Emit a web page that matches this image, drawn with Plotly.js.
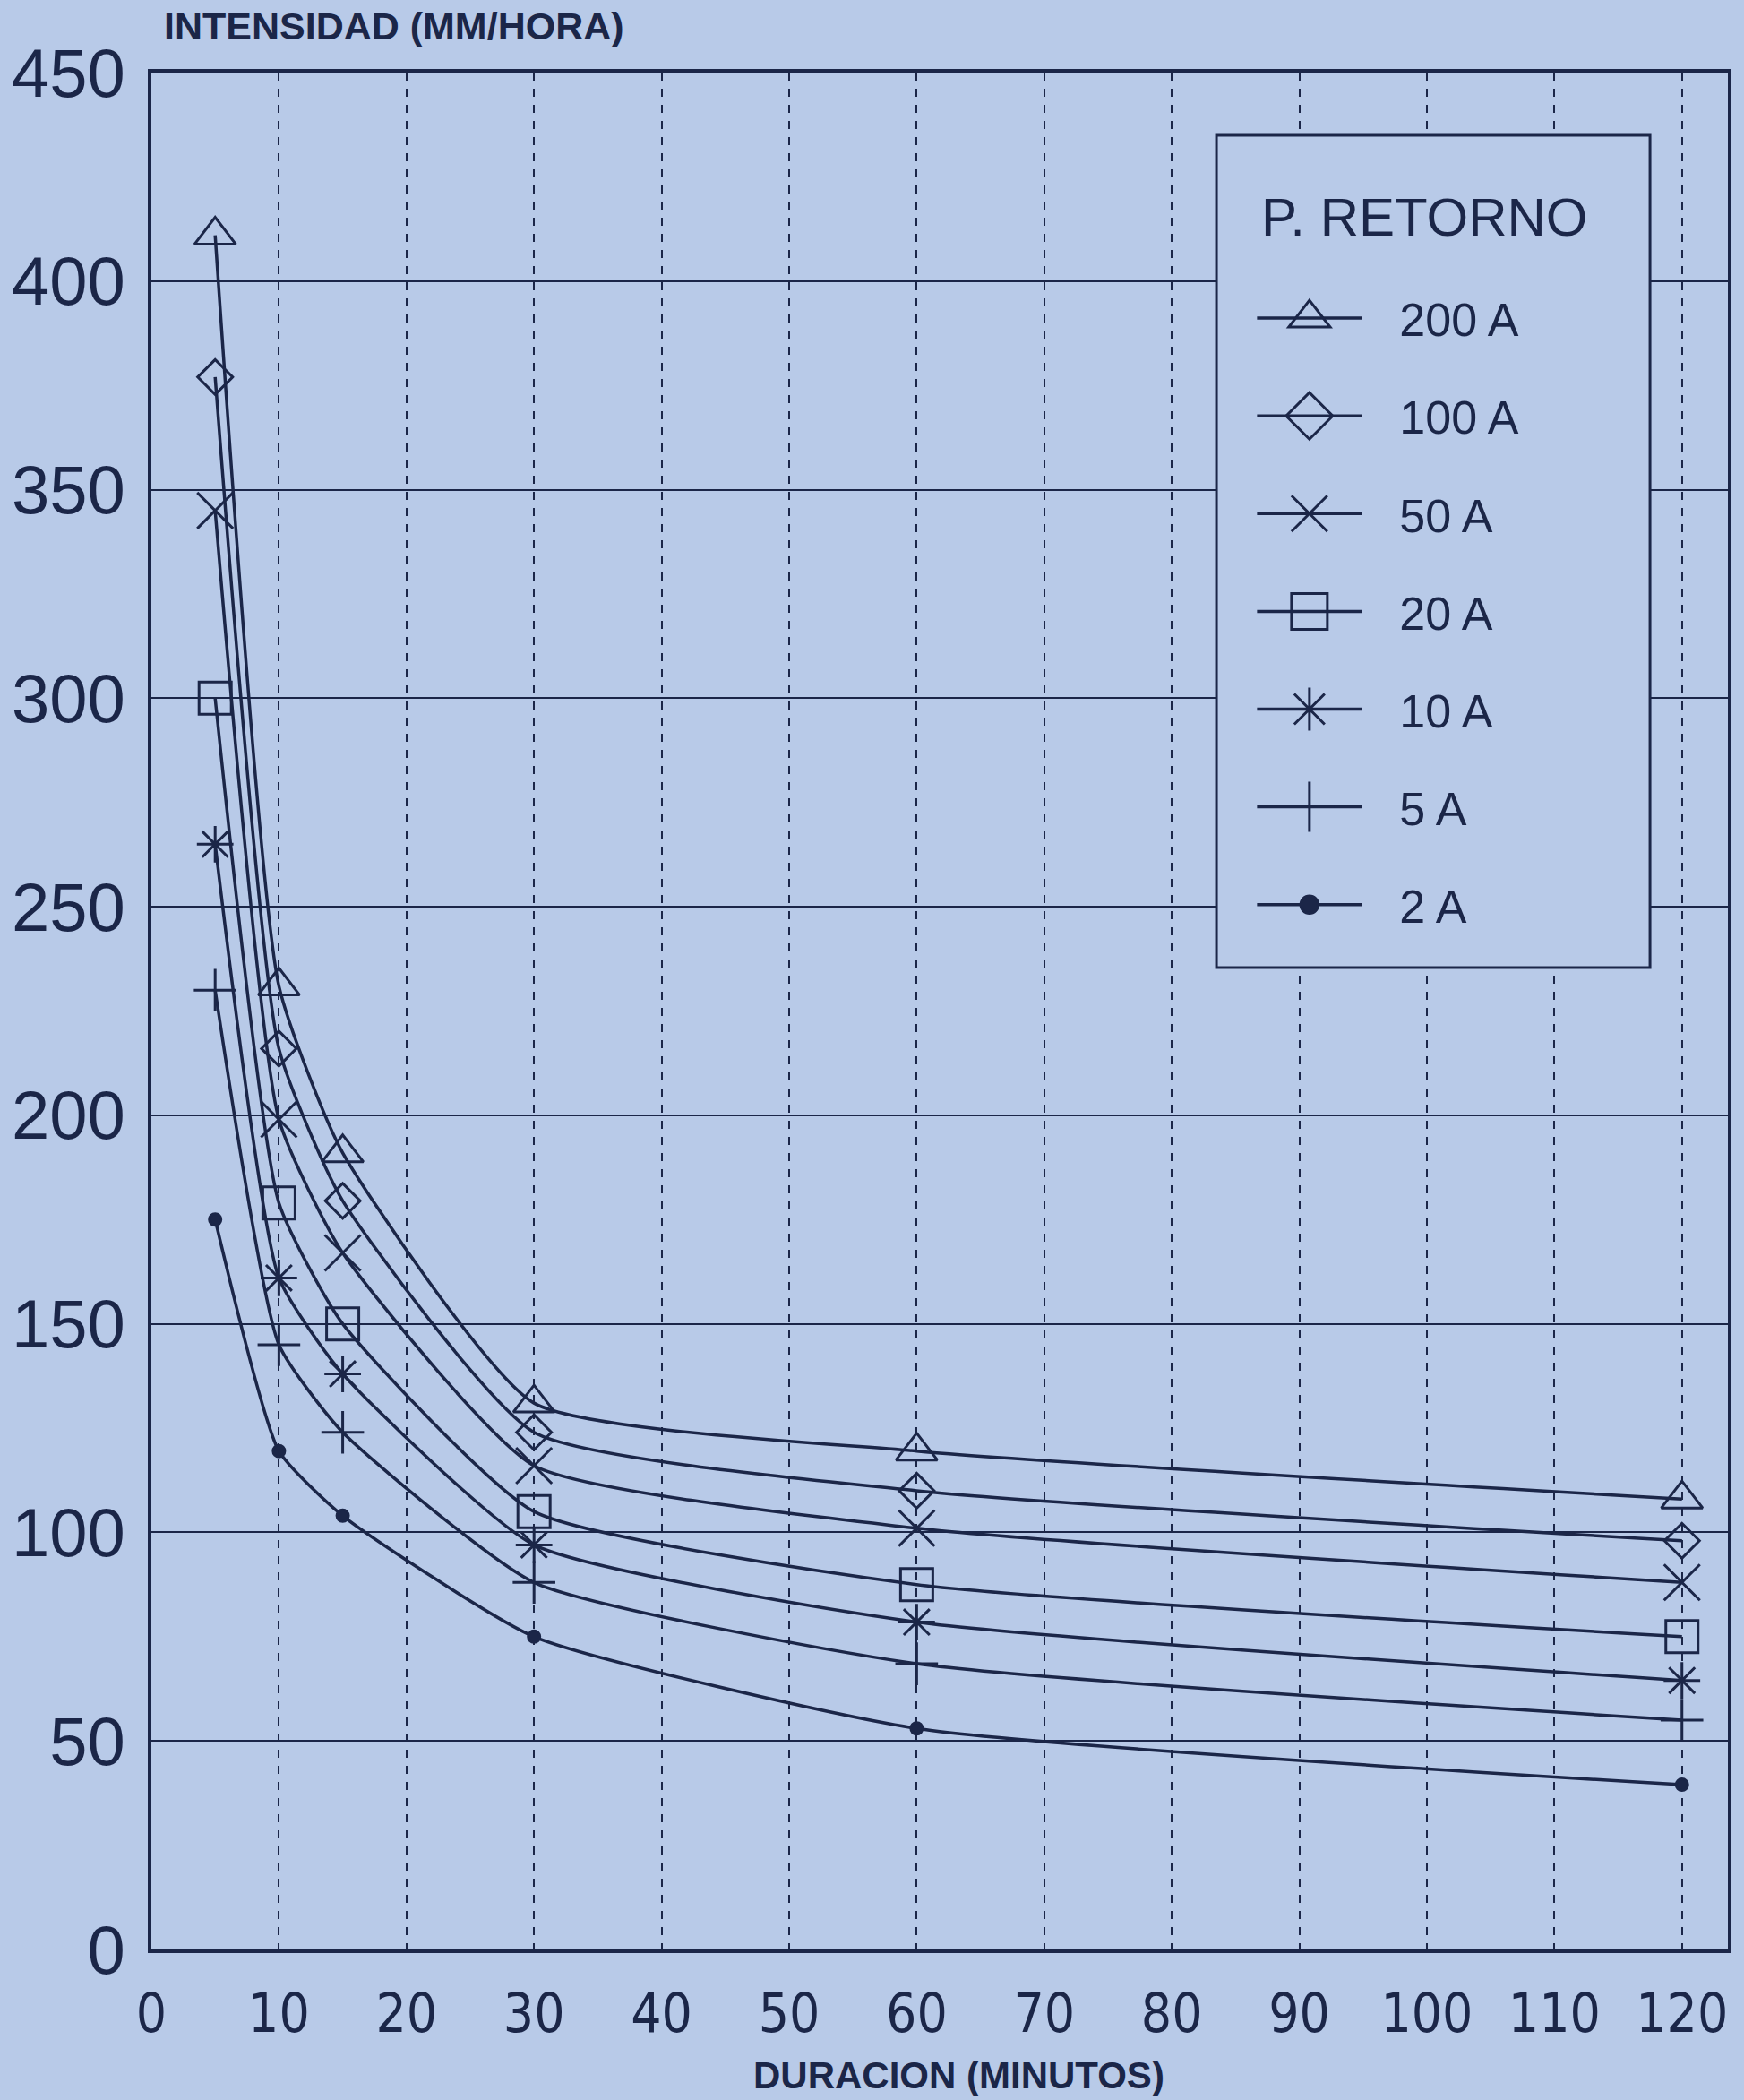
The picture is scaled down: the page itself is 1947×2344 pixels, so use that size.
<!DOCTYPE html>
<html>
<head>
<meta charset="utf-8">
<script src="https://cdn.plot.ly/plotly-3.0.1.min.js"></script>
<style>
  html, body { margin: 0; padding: 0; background: #b8cae8; }
  #chart { width: 1947px; height: 2344px; }
</style>
</head>
<body>
<div id="chart"></div>
<script>
// ---- data ----
const durations = [5, 10, 15, 30, 60, 120];           // minutos
const int200 = [411, 231, 191, 131, 119.5, 108];
const int100 = [377, 216, 179.5, 124, 110, 98];
const int50  = [345, 199, 167, 116, 101, 88];
const int20  = [300, 179, 150, 105, 87.5, 75];
const int10  = [265, 161, 138, 97, 78.5, 64.5];
const int5   = [230, 145, 124, 88, 68.5, 55];
const int2   = [175, 119.5, 104, 75, 53, 39.5];
const seriesNames = ['200 A', '100 A', '50 A', '20 A', '10 A', '5 A', '2 A'];
const legendTitle = 'P. RETORNO';
const xTickVals = [0, 10, 20, 30, 40, 50, 60, 70, 80, 90, 100, 110, 120];
const yTickVals = [0, 50, 100, 150, 200, 250, 300, 350, 400, 450];

// ---- styles ----
const INK = '#1b2648';
const BG = '#b8cae8';
const FONT = 'Liberation Sans, Arial, sans-serif';
const seriesValues = [int200, int100, int50, int20, int10, int5, int2];
const symbols = ['triangle-up-open', 'diamond-open', 'x-thin-open', 'square-open',
                 'asterisk-open', 'cross-thin-open', 'circle'];
const sizes = [40, 30, 40, 36, 34, 34, 13];

const traces = seriesValues.map((vals, i) => ({
  type: 'scatter',
  mode: 'lines+markers',
  name: seriesNames[i],
  legendgroup: 'g' + i,
  x: durations,
  y: vals,
  line: { color: INK, width: 3.5, shape: 'spline', smoothing: 0.5 },
  marker: {
    symbol: symbols[i],
    size: sizes[i],
    color: INK,
    line: { color: INK, width: 3 }
  }
}));

const layout = {
  width: 1947,
  height: 2344,
  paper_bgcolor: BG,
  plot_bgcolor: BG,
  margin: { l: 169, r: 18, t: 81, b: 168 },
  font: { family: FONT, color: INK },
  showlegend: true,
  legend: {
    x: 0.6985, y: 0.8884, xanchor: 'left', yanchor: 'top',
    bgcolor: 'rgba(0,0,0,0)',
    borderwidth: 0,
    traceorder: 'grouped',
    tracegroupgap: 38.5,
    itemwidth: 117,
    font: { size: 52, color: INK, family: FONT }
  },
  xaxis: {
    range: [0, 123.6],
    tickmode: 'array',
    tickvals: xTickVals,
    ticktext: xTickVals.map(String),
    ticks: '',
    ticklabelstandoff: 16,
    tickfont: { size: 60, color: INK, family: 'Liberation Sans Narrow, DejaVu Sans Condensed, Roboto Condensed, Roboto, sans-serif' },
    showgrid: true,
    gridcolor: INK,
    gridwidth: 2,
    griddash: 'dash',
    zeroline: false,
    showline: true,
    linecolor: INK,
    linewidth: 4,
    mirror: true
  },
  yaxis: {
    range: [0, 450],
    tickmode: 'array',
    tickvals: yTickVals,
    ticktext: yTickVals.map(String),
    ticks: '',
    ticklabelstandoff: 10,
    tickfont: { size: 76, color: INK, family: FONT },
    showgrid: true,
    gridcolor: INK,
    gridwidth: 2,
    zeroline: false,
    showline: true,
    linecolor: INK,
    linewidth: 4,
    mirror: true
  },
  annotations: [{
    text: 'INTENSIDAD (MM/HORA)',
    xref: 'paper', yref: 'paper',
    x: 0.007, y: 1.0,
    xanchor: 'left', yanchor: 'bottom',
    yshift: 26,
    showarrow: false,
    font: { size: 43, color: INK, family: FONT, weight: 'bold' }
  }, {
    text: 'DURACION (MINUTOS)',
    xref: 'paper', yref: 'paper',
    x: 0.512, y: 0,
    xanchor: 'center', yanchor: 'middle',
    yshift: -140,
    showarrow: false,
    font: { size: 42, color: INK, family: FONT, weight: 'bold' }
  }, {
    text: legendTitle,
    xref: 'paper', yref: 'paper',
    x: 0.7028, y: 0.9227,
    xanchor: 'left', yanchor: 'middle',
    showarrow: false,
    font: { size: 60, color: INK, family: FONT }
  }],
  shapes: [{
    type: 'rect',
    xref: 'paper', yref: 'paper',
    x0: 0.6756, x1: 0.9506, y0: 0.5232, y1: 0.9666,
    fillcolor: BG,
    line: { color: INK, width: 3 },
    layer: 'above'
  }]
};

Plotly.newPlot('chart', traces, layout, { staticPlot: true }).then(gd => {
  // let legend content extend past Plotly's computed legend box
  document.querySelectorAll('.legend [clip-path]').forEach(el => el.removeAttribute('clip-path'));
  // enlarge legend symbols (Plotly caps them at 16px) and open a gap before the labels
  document.querySelectorAll('.legend .traces').forEach((g, i) => {
    const s = i < 6 ? 2.5 : 1.5;
    g.querySelectorAll('.legendpoints path.scatterpts').forEach(p => {
      const t = p.getAttribute('transform') || '';
      p.setAttribute('transform', t + ' scale(' + s + ')');
      p.style.vectorEffect = 'non-scaling-stroke';
      p.style.strokeWidth = '3px';
    });
    g.querySelectorAll('text.legendtext').forEach(t => {
      const x = parseFloat(t.getAttribute('x') || '0') + 37;
      t.setAttribute('x', x);
      t.querySelectorAll('tspan').forEach(ts => { if (ts.hasAttribute('x')) ts.setAttribute('x', x); });
    });
  });
});
</script>
</body>
</html>
